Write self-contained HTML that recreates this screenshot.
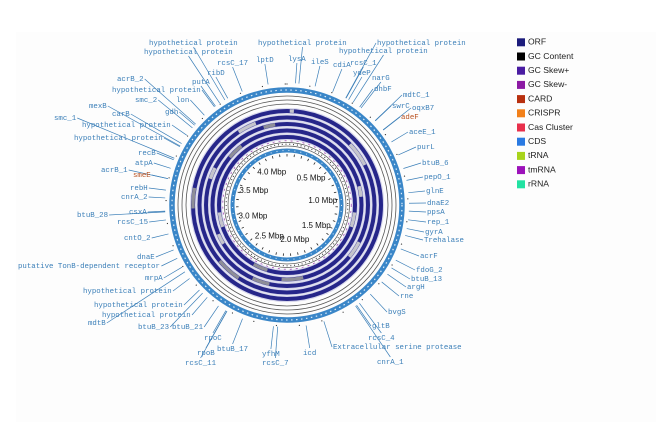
<!DOCTYPE html>
<html><head><meta charset="utf-8">
<style>
html,body{margin:0;padding:0;background:#fff;}
svg{display:block;}
.lbl{font-family:"Liberation Mono","DejaVu Sans Mono",monospace;font-size:7.4px;fill:#3b7fb8;}
.mb{font-family:"Liberation Sans",sans-serif;font-size:8px;fill:#111;}
.lg{font-family:"Liberation Sans",sans-serif;font-size:8.6px;fill:#222;}
</style></head>
<body>
<svg id="chart" width="667" height="426" viewBox="0 0 667 426" xmlns="http://www.w3.org/2000/svg">
<rect x="16" y="32" width="640" height="390" fill="#fdfdfd"/>
<g id="rings"></g>
<g id="ticks"></g>
<g id="labels"></g>
<g id="legend"></g>
</svg>
<script>
const genomeMbp = 4.3;
const scaleLabels = ["0.5 Mbp","1.0 Mbp","1.5 Mbp","2.0 Mbp","2.5 Mbp","3.0 Mbp","3.5 Mbp","4.0 Mbp"];
const scaleValues = [0.5,1.0,1.5,2.0,2.5,3.0,3.5,4.0];
const legendNames = ["ORF","GC Content","GC Skew+","GC Skew-","CARD","CRISPR","Cas Cluster","CDS","tRNA","tmRNA","rRNA"];
const legendColors = ["#1c1c7c","#000000","#4a1ca2","#8c1aa4","#b8300f","#f2801a","#e8304c","#2a7ae2","#a8d41c","#9c12ba","#22e2a2"];
// ORF band gray patches [start,end] in Mbp per band
const band1Gaps = [[0.02,0.05],[3.2,3.35]];
const band2Gaps = [[0.55,0.75],[2.55,2.75],[3.9,4.05]];
const band3Gaps = [[1.4,1.55],[2.3,2.45],[3.45,3.55],[4.1,4.2]];
const band4Gaps = [[0.9,1.0],[2.0,2.2],[2.85,2.95],[3.7,3.85]];
const band5Gaps = [[1.15,1.3],[2.35,2.5],[3.0,3.15]];
const geneNames = ["hypothetical protein","hypothetical protein","rcsC_17","lptD","ribD","putA","acrB_2","hypothetical protein","smc_2","lon","gdh","mexB","carB","smc_1","hypothetical protein","hypothetical protein","recB","atpA","acrB_1","smeE","rebH","cnrA_2","csxA","btuB_28","rcsC_15","cntO_2","dnaE","putative TonB-dependent receptor","mrpA","hypothetical protein","hypothetical protein","hypothetical protein","mdtB","btuB_23","btuB_21","rpoC","btuB_17","rpoB","rcsC_11","yfhM","rcsC_7","icd","Extracellular serine protease","cnrA_1","rcsC_4","gltB","bvgS","rne","argH","btuB_13","fdoG_2","acrF","Trehalase","gyrA","rep_1","ppsA","dnaE2","glnE","pepO_1","btuB_6","purL","aceE_1","adeF","swrC","oqxB7","mdtC_1","dhbF","narG","ydeP","cdiA","rcsC_1","hypothetical protein","hypothetical protein","hypothetical protein","ileS","lysA"];
const geneX = [149,144,217,256,207,192,117,112,135,176,165,89,112,54,82,74,138,135,101,133,130,121,129,77,117,124,137,18,145,83,94,102,88,138,172,204,217,197,185,262,262,303,333,377,368,372,388,400,407,411,416,420,424,425,427,427,427,426,424,422,417,409,401,392,412,403,374,372,353,333,350,339,377,258,311,288];
const geneY = [43,52,63,60,73,82,79,90,100,100,112,106,114,118,125,138,153,163,170,175,188,197,212,215,222,238,257,266,278,291,305,315,323,327,327,338,349,353,363,354,363,353,347,362,338,326,312,296,287,279,270,256,240,232,222,212,203,191,177,163,147,132,117,106,108,95,89,78,73,65,63,51,43,43,62,59];
const geneRed = ["smeE","adeF"];

const NS="http://www.w3.org/2000/svg";
const cx=287, cy=205;
function ang(m){return m/genomeMbp*2*Math.PI;}
function px(m,r){return cx+r*Math.sin(ang(m));}
function py(m,r){return cy-r*Math.cos(ang(m));}
function mk(tag,attrs,parent){const e=document.createElementNS(NS,tag);for(const k in attrs)e.setAttribute(k,attrs[k]);parent.appendChild(e);return e;}
function arcPath(a,b,r){const large=(b-a)/genomeMbp>0.5?1:0;return `M${px(a,r)},${py(a,r)} A${r},${r} 0 ${large} 1 ${px(b,r)},${py(b,r)}`;}

const rings=document.getElementById('rings');
let e=mk('circle',{cx,cy,r:115,fill:'none',stroke:'#3a86c8','stroke-width':5.5},rings);


e=mk('circle',{cx,cy,r:115,fill:'none',stroke:'#dfeefa','stroke-width':1.2,'stroke-dasharray':'1.5 3.5'},rings);


[109,105,101].forEach((r)=>{
  const c=mk('circle',{cx,cy,r,fill:'none',stroke:'#555','stroke-width':0.8},rings);
  
  
});
const bandGaps=[band1Gaps,band2Gaps,band3Gaps,band4Gaps,band5Gaps];
const bandR=[94,87.5,81,74.5,68];
bandGaps.forEach((gaps,i)=>{
  const s=mk('circle',{cx,cy,r:bandR[i],fill:'none',stroke:'#d8d8ec','stroke-width':6.3},rings);
  
  
  const c=mk('circle',{cx,cy,r:bandR[i],fill:'none',stroke:'#26268a','stroke-width':4},rings);
  
  
  gaps.forEach((g,j)=>{
    const p=mk('path',{d:arcPath(g[0],g[1],bandR[i]),fill:'none',stroke:j%2?'#8e8e98':'#c4c4cc','stroke-width':3.4},rings);
    
    
  });
});
[62.5,59].forEach(r=>{
  const c=mk('circle',{cx,cy,r,fill:'none',stroke:'#555','stroke-width':0.7},rings);
  
  
});
e=mk('circle',{cx,cy,r:60.8,fill:'none',stroke:'#222','stroke-width':1.2,'stroke-dasharray':'0.8 3'},rings);


e=mk('circle',{cx,cy,r:64.2,fill:'none',stroke:'#8c1aa4','stroke-width':0.6,'stroke-dasharray':'2 4'},rings);


e=mk('circle',{cx,cy,r:54.5,fill:'none',stroke:'#3a86c8','stroke-width':4},rings);


e=mk('circle',{cx,cy,r:54.5,fill:'none',stroke:'#e0eefa','stroke-width':1,'stroke-dasharray':'1 5'},rings);



const ticks=document.getElementById('ticks');
for(let m=0;m<genomeMbp;m+=0.1){
  const t=mk('line',{x1:px(m,51),y1:py(m,51),x2:px(m,48.5),y2:py(m,48.5),stroke:'#222','stroke-width':0.8},ticks);
  
  
}
for(let m=0;m<genomeMbp;m+=0.13){
  const t=mk('circle',{cx:px(m,121),cy:py(m,121),r:0.6,fill:'#333'},ticks);
  
  
}
scaleValues.forEach((v,i)=>{
  const t=mk('text',{x:px(v,36),y:py(v,36),'text-anchor':'middle','dominant-baseline':'middle',class:'mb'},ticks);
  t.textContent=scaleLabels[i];
  
  
});

const labels=document.getElementById('labels');
geneNames.forEach((n,i)=>{
  const w=n.length*4.45;
  const lx=geneX[i], ly=geneY[i];
  const mid=lx+w/2;
  const dx=mid-cx, dy=ly-cy;
  let ax, ay;
  if(Math.abs(dy)>Math.abs(dx)*1.3){ax=mid; ay=ly+(dy<0?4:-5);}
  else{ax=dx<0?lx+w+1:lx-1; ay=ly;}
  const d=Math.hypot(ax-cx,ay-cy);
  const ex=cx+(ax-cx)/d*122, ey=cy+(ay-cy)/d*122;
  const l=mk('line',{x1:ax,y1:ay,x2:ex,y2:ey,stroke:'#3b7fb8','stroke-width':0.7},labels);
  
  
  const t=mk('text',{x:lx,y:ly,'dominant-baseline':'middle',class:'lbl'},labels);
  if(geneRed.includes(n)) t.setAttribute('style','fill:#b8501f');
  t.textContent=n;
  
  
});

const legend=document.getElementById('legend');
legendNames.forEach((n,i)=>{
  const y=42.3+i*14.2;
  const g=mk('g',{},legend);
  
  
  const s=mk('rect',{x:517,y:y-4,width:8,height:8,fill:legendColors[i]},g);
  
  
  const t=mk('text',{x:528,y:y,'dominant-baseline':'middle',class:'lg'},g);
  t.textContent=n;
  
  
});
</script>
</body></html>
